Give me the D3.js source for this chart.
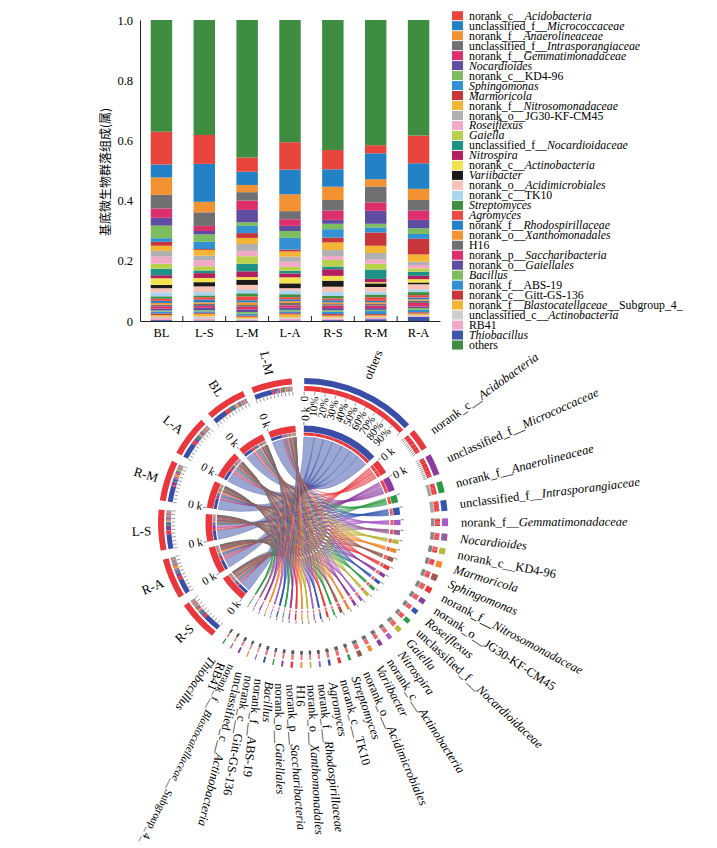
<!DOCTYPE html>
<html lang="zh">
<head>
<meta charset="utf-8">
<title>基底微生物群落组成</title>
<script src="https://cdn.jsdelivr.net/npm/d3@7"></script>
<style>
  body { margin: 0; background: #fff; }
  svg { display: block; font-family: "Liberation Serif", "Times New Roman", serif; }
</style>
</head>
<body>
<script>
// ---- data ----
var samples = ["BL", "L-S", "L-M", "L-A", "R-S", "R-M", "R-A"];

// *...* marks the italic part of a name
var species = [
  "norank_c__*Acidobacteria*", "unclassified_f__*Micrococcaceae*", "norank_f__*Anaerolineaceae*",
  "unclassified_f__*Intrasporangiaceae*", "norank_f__*Gemmatimonadaceae*", "*Nocardioides*",
  "norank_c__KD4-96", "*Sphingomonas*", "*Marmoricola*", "norank_f__*Nitrosomonadaceae*",
  "norank_o__JG30-KF-CM45", "*Roseiflexus*", "*Gaiella*", "unclassified_f__*Nocardioidaceae*",
  "*Nitrospira*", "norank_c__*Actinobacteria*", "*Variibacter*", "norank_o__*Acidimicrobiales*",
  "norank_c__TK10", "*Streptomyces*", "*Agromyces*", "norank_f__*Rhodospirillaceae*",
  "norank_o__*Xanthomonadales*", "H16", "norank_p__*Saccharibacteria*", "norank_o__*Gaiellales*",
  "*Bacillus*", "norank_f__ABS-19", "norank_c__Gitt-GS-136", "norank_f__*Blastocatellaceae*__Subgroup_4_",
  "unclassified_c__*Actinobacteria*", "RB41", "*Thiobacillus*", "others"
];

var barColors = [
  "#e8453c", "#2382c5", "#f39232", "#707072", "#dc2f6b", "#5e4da0", "#7dbd5f", "#3290d3",
  "#c9363a", "#f4b535", "#b0b0b2", "#f2a9c8", "#b8d14b", "#1e9285", "#b31f5f", "#f1e14d",
  "#1a1a1a", "#f8c2b6", "#a8d5f2", "#3f8f41", "#ec4a45", "#2382c5", "#f39232", "#707072",
  "#dc2f6b", "#5e4da0", "#7dbd5f", "#3290d3", "#c9363a", "#f4b535", "#cfcfd0", "#f2a9c8",
  "#3f56a8", "#3e8d41"
];

// relative abundance per sample, in legend order
var vBL = [0.109, 0.043, 0.058, 0.045, 0.031, 0.026, 0.042, 0.012, 0.013, 0.017, 0.019, 0.024, 0.016, 0.022, 0.010, 0.022, 0.011, 0.014, 0.013, 0.008, 0.007, 0.007, 0.006, 0.005, 0.008, 0.006, 0.004, 0.006, 0.005, 0.006, 0.004, 0.007, 0.003, 0.371];
var vLS = [0.096, 0.126, 0.035, 0.045, 0.017, 0.011, 0.025, 0.024, 0.003, 0.019, 0.015, 0.020, 0.014, 0.009, 0.016, 0.014, 0.014, 0.019, 0.011, 0.006, 0.008, 0.009, 0.005, 0.007, 0.006, 0.008, 0.004, 0.005, 0.003, 0.009, 0.008, 0.005, 0.002, 0.382];
var vLM = [0.047, 0.044, 0.024, 0.028, 0.031, 0.041, 0.012, 0.024, 0.016, 0.020, 0.023, 0.018, 0.025, 0.025, 0.019, 0.009, 0.017, 0.017, 0.011, 0.010, 0.013, 0.007, 0.009, 0.006, 0.009, 0.008, 0.006, 0.006, 0.004, 0.006, 0.003, 0.003, 0.002, 0.457];
var vLA = [0.091, 0.082, 0.056, 0.027, 0.022, 0.017, 0.023, 0.039, 0.006, 0.017, 0.017, 0.017, 0.013, 0.009, 0.013, 0.020, 0.016, 0.009, 0.011, 0.010, 0.007, 0.006, 0.006, 0.008, 0.008, 0.007, 0.005, 0.006, 0.004, 0.010, 0.005, 0.005, 0.002, 0.406];
var vRS = [0.064, 0.058, 0.044, 0.035, 0.031, 0.013, 0.018, 0.028, 0.016, 0.025, 0.020, 0.013, 0.022, 0.009, 0.022, 0.016, 0.020, 0.018, 0.013, 0.008, 0.006, 0.007, 0.006, 0.005, 0.008, 0.007, 0.005, 0.008, 0.005, 0.006, 0.004, 0.005, 0.003, 0.432];
var vRM = [0.027, 0.086, 0.024, 0.053, 0.028, 0.043, 0.012, 0.017, 0.044, 0.024, 0.022, 0.014, 0.019, 0.031, 0.011, 0.004, 0.012, 0.016, 0.009, 0.009, 0.012, 0.005, 0.005, 0.006, 0.008, 0.006, 0.004, 0.010, 0.004, 0.005, 0.004, 0.004, 0.006, 0.416];
var vRA = [0.092, 0.085, 0.037, 0.035, 0.031, 0.028, 0.019, 0.016, 0.052, 0.024, 0.011, 0.011, 0.011, 0.014, 0.011, 0.011, 0.006, 0.017, 0.009, 0.010, 0.008, 0.006, 0.004, 0.008, 0.012, 0.005, 0.006, 0.008, 0.004, 0.005, 0.003, 0.003, 0.014, 0.384];
var values = [vBL, vLS, vLM, vLA, vRS, vRM, vRA];

var yTicks = [0, 0.2, 0.4, 0.6, 0.8, 1.0];

// circle: species order (legend indices) and sample order, clockwise from top
var circleSpecies = [33, 0, 1, 2, 3, 4, 5, 6, 8, 7, 9, 10, 11, 13, 12, 14, 15, 16, 17, 19, 18, 20, 21, 22, 23, 24, 25, 26, 27, 28, 30, 29, 31, 32];
var circleSamples = [4, 6, 1, 5, 3, 0, 2];
var circosColors = [
  "#3a4da7", "#e8383d", "#8e3b9f", "#2e9a46", "#3356b0", "#a85ac4", "#95609a", "#b8b83a", "#f28b2e",
  "#9c5b50", "#e8383d", "#8e3b9f", "#3356b0", "#2e9a46", "#b8b83a", "#a85ac4", "#8e3b9f", "#f28b2e",
  "#9c5b50", "#2e9a46", "#e8383d", "#3356b0", "#a85ac4", "#b8b83a", "#f28b2e", "#e8383d", "#8e3b9f",
  "#2e9a46", "#3356b0", "#a85ac4", "#f28b2e", "#8e3b9f", "#95609a", "#2e9a46"
];
var sampleColor = "#e8383d";
var pctLabels = ["0", "10%", "20%", "30%", "40%", "50%", "60%", "70%", "80%", "90%"];

var serif = "'Liberation Serif', 'Times New Roman', serif";

var svg = d3.select("body").append("svg").attr("width", 717).attr("height", 848);

function addName(sel, name) {
  name.split("*").forEach(function(part, i) {
    if (part) sel.append("tspan").attr("font-style", i % 2 ? "italic" : "normal").text(part);
  });
}

// ---- stacked bars ----
var x = d3.scaleBand().domain(samples).range([140, 440]).paddingInner(0.5).paddingOuter(0.25);
var y = d3.scaleLinear().domain([0, 1]).range([321, 20]);

var stackOrder = d3.range(32, -1, -1).concat([33]);
var rows = samples.map(function(s, j) { return {sample: s, vals: values[j]}; });
var series = d3.stack().keys(stackOrder).value(function(d, k) { return d.vals[k]; })(rows);

svg.append("g").selectAll("g").data(series).join("g")
    .attr("fill", function(d) { return barColors[d.key]; })
  .selectAll("rect").data(function(d) { return d; }).join("rect")
    .attr("x", function(d) { return x(d.data.sample); })
    .attr("width", x.bandwidth())
    .attr("y", function(d) { return y(d[1]); })
    .attr("height", function(d) { return y(d[0]) - y(d[1]); });

svg.append("g").attr("transform", "translate(140,0)")
    .call(d3.axisLeft(y).tickValues(yTicks).tickSize(0).tickPadding(7)
      .tickFormat(function(d) { return d === 0 ? "0" : d3.format(".1f")(d); }))
    .attr("font-family", serif).attr("font-size", 12.5)
    .call(function(g) { g.select(".domain").attr("stroke", "#222"); });

svg.append("g").attr("transform", "translate(0,321)")
    .call(d3.axisBottom(x).tickSize(0).tickPadding(7))
    .attr("font-family", serif).attr("font-size", 12.5)
    .call(function(g) { g.select(".domain").attr("stroke", "#222"); });

// small ticks between the bars
svg.append("g").selectAll("line").data(samples.slice(1)).join("line")
    .attr("x1", function(d) { return x(d) - (x.step() - x.bandwidth()) / 2; })
    .attr("x2", function(d) { return x(d) - (x.step() - x.bandwidth()) / 2; })
    .attr("y1", 321).attr("y2", 316)
    .attr("stroke", "#222");

svg.append("text")
    .attr("transform", "translate(110,172) rotate(-90)")
    .attr("text-anchor", "middle")
    .attr("font-family", "'Noto Sans CJK SC', sans-serif")
    .attr("font-size", 12)
    .text("基底微生物群落组成(属)");

// legend
var leg = svg.append("g").attr("font-size", 11.8);
species.forEach(function(name, i) {
  var yy = 15.7 + i * 9.98;
  leg.append("rect").attr("x", 452).attr("y", yy - 4.5).attr("width", 11).attr("height", 9)
      .attr("fill", barColors[i]);
  addName(leg.append("text").attr("x", 469).attr("y", yy + 4), name);
});

// ---- circos ----
var cx = 303, cy = 523;
var rad = Math.PI / 180;
var circ = svg.append("g").attr("transform", "translate(" + cx + "," + cy + ")");

var nodes = [];
circleSpecies.forEach(function(s, i) {
  nodes.push({type: "sp", key: s, name: species[s], color: circosColors[i],
              value: d3.sum(values, function(v) { return v[s]; })});
});
circleSamples.forEach(function(j) {
  nodes.push({type: "sa", key: j, name: samples[j], color: sampleColor, value: d3.sum(values[j])});
});
var nSp = circleSpecies.length;

function gapAfter(i) {
  if (i === nSp - 1 || i === nodes.length - 1) return 5;
  return i < nSp ? 3.0 : 3.7;
}
var totalGap = d3.sum(nodes, function(d, i) { return gapAfter(i); });
var k = (360 - totalGap) / d3.sum(nodes, function(d) { return d.value; });

var a = 0.5;
nodes.forEach(function(d, i) { d.a0 = a; d.a1 = a + d.value * k; a = d.a1 + gapAfter(i); });

// sub-arcs: a node split by its partners
var sub = {};
var subList = [];
nodes.forEach(function(d, i) {
  var s = d.a0;
  var partners = d.type === "sp" ? d3.range(nSp, nodes.length) : d3.range(0, nSp);
  partners.forEach(function(p) {
    var q = nodes[p];
    var v = d.type === "sp" ? values[q.key][d.key] : values[d.key][q.key];
    var o = {startAngle: s * rad, endAngle: (s + v * k) * rad, color: q.color};
    sub[i + "-" + p] = o;
    subList.push(o);
    s += v * k;
  });
});

var links = [];
for (var i = 0; i < nSp; i++) {
  for (var p = nSp; p < nodes.length; p++) {
    links.push({source: sub[i + "-" + p], target: sub[p + "-" + i], color: nodes[i].color});
  }
}

circ.append("g").selectAll("path").data(links).join("path")
    .attr("d", d3.ribbon().radius(86))
    .attr("fill", function(d) { return d.color; })
    .attr("fill-opacity", 0.5)
    .attr("stroke", function(d) { return d.color; })
    .attr("stroke-opacity", 0.7)
    .attr("stroke-width", 0.4);

var arc = d3.arc();
function ring(data, r0, r1) {
  circ.append("g").selectAll("path").data(data).join("path")
      .attr("d", function(d) {
        return arc({innerRadius: r0, outerRadius: r1,
                    startAngle: d.startAngle !== undefined ? d.startAngle : d.a0 * rad,
                    endAngle: d.endAngle !== undefined ? d.endAngle : d.a1 * rad});
      })
      .attr("fill", function(d) { return d.color; });
}
ring(subList, 87.5, 90.5);
ring(nodes, 91, 97.5);
ring(subList, 132, 137);
ring(nodes, 139, 145);

function pt(deg, r) {
  return [r * Math.sin(deg * rad), -r * Math.cos(deg * rad)];
}

// outer ticks every 10 %
var ticks = [];
nodes.forEach(function(d) {
  d3.range(0, 11).forEach(function(t) { ticks.push(d.a0 + (d.a1 - d.a0) * t / 10); });
});
circ.append("g").selectAll("line").data(ticks).join("line")
    .attr("x1", function(d) { return pt(d, 128)[0]; })
    .attr("y1", function(d) { return pt(d, 128)[1]; })
    .attr("x2", function(d) { return pt(d, 131.5)[0]; })
    .attr("y2", function(d) { return pt(d, 131.5)[1]; })
    .attr("stroke", "#555").attr("stroke-width", 0.6);

// inner start ticks
circ.append("g").selectAll("line").data(nodes).join("line")
    .attr("x1", function(d) { return pt(d.a0, 98)[0]; })
    .attr("y1", function(d) { return pt(d.a0, 98)[1]; })
    .attr("x2", function(d) { return pt(d.a0, 101)[0]; })
    .attr("y2", function(d) { return pt(d.a0, 101)[1]; })
    .attr("stroke", "#333").attr("stroke-width", 0.6);

function radial(deg, r, flip) {
  return "rotate(" + (deg - 90) + ") translate(" + r + ",0)" + (flip ? " rotate(180)" : "");
}

// "0 k" labels on the big segments
circ.append("g").attr("font-size", 11.5).selectAll("text")
    .data(nodes.filter(function(d) { return d.value > 0.4; })).join("text")
    .attr("transform", function(d) { return radial(d.a0 + 0.6, 102, d.a0 > 180); })
    .attr("text-anchor", function(d) { return d.a0 > 180 ? "end" : "start"; })
    .attr("dy", "0.35em")
    .text("0 k");

// percent labels along "others"
var others = nodes[0];
circ.append("g").attr("font-size", 11).selectAll("text").data(pctLabels).join("text")
    .attr("transform", function(d, t) { return radial(others.a0 + (others.a1 - others.a0) * t / 10, 127, false); })
    .attr("text-anchor", "end")
    .attr("dy", "0.35em")
    .text(function(d) { return d; });

// species and sample labels
var lab = circ.append("g").attr("font-size", 12.5);
nodes.forEach(function(d) {
  var mid = (d.a0 + d.a1) / 2;
  var t = lab.append("text").attr("dy", "0.35em");
  if (d.type === "sp") {
    var long = d.name.length > 36;
    var r = mid > 140 ? (long ? 159 : 162) : 158;
    var tr = radial(mid, r, false);
    // labels crowded at the lower left lean a little towards vertical
    if (mid > 183 && mid < 212 && !long) tr += " rotate(-9)";
    t.attr("transform", tr).attr("text-anchor", "start");
    if (long) t.attr("font-size", 11);
    addName(t, d.name);
  } else {
    t.attr("transform", radial(mid, 152, true)).attr("text-anchor", "end").attr("font-size", 13).text(d.name);
  }
});
</script>
</body>
</html>
